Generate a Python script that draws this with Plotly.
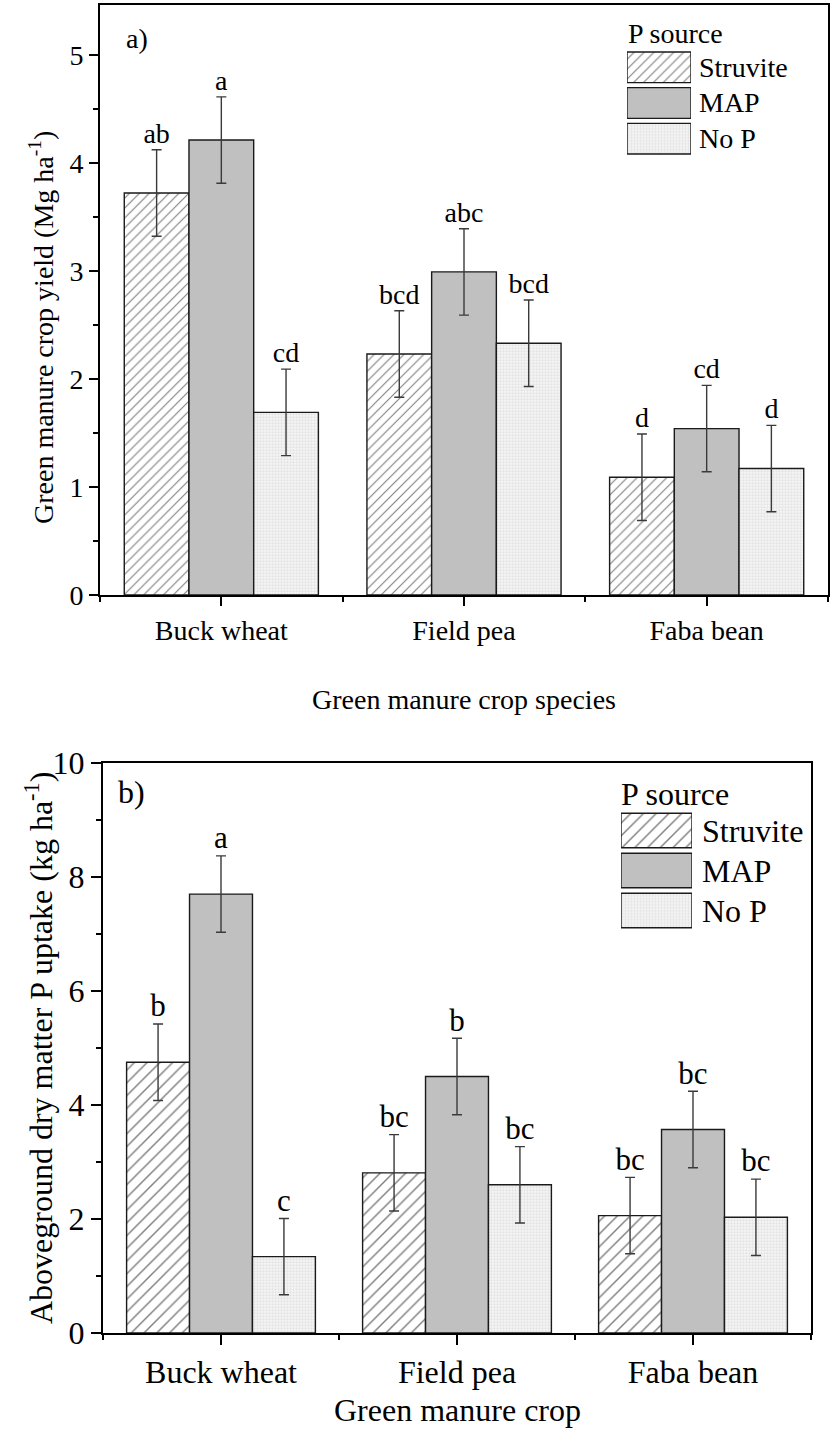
import plotly.graph_objects as go

# ---- data -------------------------------------------------------------
categories = ["Buck wheat", "Field pea", "Faba bean"]
sources = ["Struvite", "MAP", "No P"]

# a) green manure crop yield (Mg ha-1)
yield_struvite = [3.72, 2.23, 1.09]
yield_map = [4.21, 2.99, 1.54]
yield_nop = [1.69, 2.33, 1.17]
yield_err = [0.40, 0.40, 0.40]
yield_letters_struvite = ["ab", "bcd", "d"]
yield_letters_map = ["a", "abc", "cd"]
yield_letters_nop = ["cd", "bcd", "d"]

# b) aboveground dry matter P uptake (kg ha-1)
uptake_struvite = [4.75, 2.81, 2.06]
uptake_map = [7.70, 4.50, 3.57]
uptake_nop = [1.34, 2.60, 2.03]
uptake_err = [0.67, 0.67, 0.67]
uptake_letters_struvite = ["b", "bc", "bc"]
uptake_letters_map = ["a", "b", "bc"]
uptake_letters_nop = ["c", "bc", "bc"]

# ---- layout helpers -----------------------------------------------------
W, H = 836, 1437
FONT = "Times New Roman, Liberation Serif, Tinos, serif"


def px_x(p):
    return p / W


def px_y(p):
    return 1 - p / H


x_pos = [i + 1 for i in range(len(categories))]
group_width = 0.8
bar_w = group_width / len(sources)


def styles(hatch_size):
    return [
        dict(color="white", line=dict(color="#1a1a1a", width=1.4),
             pattern=dict(shape="/", size=hatch_size, solidity=0.16,
                          fgcolor="#000000", bgcolor="white", fillmode="overlay")),
        dict(color="#c0c0c0", line=dict(color="#1a1a1a", width=1.4)),
        dict(color="white", line=dict(color="#1a1a1a", width=1.4),
             pattern=dict(shape=".", size=3, solidity=0.45,
                          fgcolor="#cfcfcf", bgcolor="#f6f6f6", fillmode="overlay")),
    ]


fig = go.Figure()


def add_panel(xa, ya, series, err, letters, hatch_size, letter_size):
    st = styles(hatch_size)
    for j, (vals, lets) in enumerate(zip(series, letters)):
        fig.add_trace(go.Bar(
            x=x_pos, y=vals, width=bar_w, offset=(j - 1.5) * bar_w,
            marker=st[j], xaxis=xa, yaxis=ya, showlegend=False,
            error_y=dict(type="data", array=err, color="#3a3a3a",
                         thickness=1.4, width=5),
        ))
        fig.add_trace(go.Scatter(
            x=[x + (j - 1) * bar_w for x in x_pos],
            y=[v + e for v, e in zip(vals, err)],
            mode="text", text=lets, textposition="top center",
            textfont=dict(family=FONT, size=letter_size, color="black"),
            xaxis=xa, yaxis=ya, showlegend=False, cliponaxis=False,
        ))


add_panel("x", "y", [yield_struvite, yield_map, yield_nop], yield_err,
          [yield_letters_struvite, yield_letters_map, yield_letters_nop], 7, 28)
add_panel("x2", "y2", [uptake_struvite, uptake_map, uptake_nop], uptake_err,
          [uptake_letters_struvite, uptake_letters_map, uptake_letters_nop], 9, 31)


# legend swatches drawn as bars on small helper axes
def add_legend(xa, ya, hatch_size):
    st = styles(hatch_size)
    for j in range(len(sources)):
        fig.add_trace(go.Bar(
            x=[0.5], y=[0.86], base=[j + 0.07], width=[1.0],
            marker=st[j], xaxis=xa, yaxis=ya, showlegend=False,
            hoverinfo="skip",
        ))


add_legend("x3", "y3", 7)
add_legend("x4", "y4", 9)

axis_common = dict(showline=True, linecolor="black", linewidth=2, mirror=True,
                   showgrid=False, zeroline=False, ticks="outside",
                   tickcolor="black", tickwidth=2, automargin=False)
hidden = dict(visible=False, fixedrange=True, automargin=False)

tick_font_a = dict(family=FONT, size=28, color="black")
tick_font_b = dict(family=FONT, size=32, color="black")

fig.update_layout(
    width=W, height=H, autosize=False,
    margin=dict(l=0, r=0, t=0, b=0, autoexpand=False),
    paper_bgcolor="white", plot_bgcolor="white",
    barmode="overlay", showlegend=False,
    xaxis=dict(domain=[px_x(100), px_x(828)], range=[0.5, 3.5], anchor="y",
               tickvals=x_pos, ticktext=categories, ticklen=9,
               tickfont=tick_font_a,
               minor=dict(tickvals=[0.5, 1.5, 2.5, 3.5], ticklen=5,
                          tickcolor="black", tickwidth=2, ticks="outside"),
               **axis_common),
    yaxis=dict(domain=[px_y(595), px_y(5)], range=[0, 5.46], anchor="x",
               dtick=1, ticklen=9, tickfont=tick_font_a,
               minor=dict(dtick=0.5, ticklen=5, tickcolor="black",
                          tickwidth=2, ticks="outside"),
               **axis_common),
    xaxis2=dict(domain=[px_x(103), px_x(811)], range=[0.5, 3.5], anchor="y2",
                tickvals=x_pos, ticktext=categories, ticklen=10,
                tickfont=tick_font_b,
                minor=dict(tickvals=[0.5, 1.5, 2.5, 3.5], ticklen=5,
                           tickcolor="black", tickwidth=2, ticks="outside"),
                **axis_common),
    yaxis2=dict(domain=[px_y(1333), px_y(763)], range=[0, 10], anchor="x2",
                dtick=2, ticklen=10, tickfont=tick_font_b,
                minor=dict(dtick=1, ticklen=5, tickcolor="black",
                           tickwidth=2, ticks="outside"),
                **axis_common),
    xaxis3=dict(domain=[px_x(627), px_x(691)], range=[0, 1], anchor="y3",
                **hidden),
    yaxis3=dict(domain=[px_y(156.5), px_y(49.5)], range=[3, 0], anchor="x3",
                **hidden),
    xaxis4=dict(domain=[px_x(621), px_x(692)], range=[0, 1], anchor="y4",
                **hidden),
    yaxis4=dict(domain=[px_y(930.5), px_y(810.5)], range=[3, 0], anchor="x4",
                **hidden),
)


def ann(text, x, y, size, xanchor="center", angle=0):
    fig.add_annotation(text=text, x=px_x(x), y=px_y(y), xref="paper",
                       yref="paper", showarrow=False, xanchor=xanchor,
                       yanchor="middle", textangle=angle,
                       font=dict(family=FONT, size=size, color="black"))


# panel tags
ann("a)", 124, 38, 28, xanchor="left")
ann("b)", 116, 792, 32, xanchor="left")

# axis titles
ann("Green manure crop species", 464, 700, 28)
ann("Green manure crop yield (Mg ha<sup>-1</sup>)", 41, 328, 28, angle=-90)
ann("Green manure crop", 457, 1410, 32)
ann("Aboveground dry matter P uptake (kg ha<sup>-1</sup>)", 39, 1048, 32,
    angle=-90)

# legend text
ann("P source", 626, 33, 28, xanchor="left")
for j, name in enumerate(sources):
    ann(name, 697, 67 + j * 35.6, 28, xanchor="left")
ann("P source", 619, 794, 32, xanchor="left")
for j, name in enumerate(sources):
    ann(name, 700, 830.5 + j * 40, 32, xanchor="left")

fig.write_html("out.html")
